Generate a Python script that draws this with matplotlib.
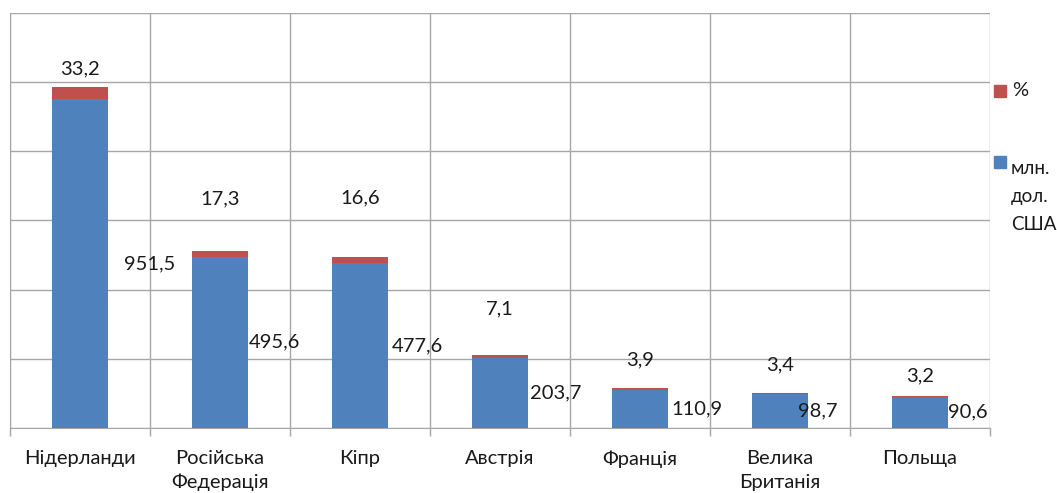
import numpy as np
import matplotlib.pyplot as plt
from matplotlib.patches import Rectangle

plt.rcParams['font.family'] = ['Lato', 'DejaVu Sans']

countries = ["Нідерланди", "Російська\nФедерація", "Кіпр", "Австрія",
             "Франція", "Велика\nБританія", "Польща"]
usd_mln = [951.5, 495.6, 477.6, 203.7, 110.9, 98.7, 90.6]
percent = [33.2, 17.3, 16.6, 7.1, 3.9, 3.4, 3.2]

# label placement (manual, as in the source chart)
usd_label_dx = [0.50, 0.39, 0.41, 0.40, 0.41, 0.27, 0.34]
pct_label_dy = [19, 52, 59, 46, 28, 28, 20]  # px above bar top

BLUE = "#4F81BD"
RED = "#C0504D"
GRID = "#A6A6A6"
TXT = "#1a1a1a"
FS = 14.5

fig = plt.figure(figsize=(10.57, 4.93), dpi=100)
ax = fig.add_axes([10 / 1057, 65 / 493, 980 / 1057, 415 / 493])

x = np.arange(len(countries))
ax.bar(x, usd_mln, width=0.4, color=BLUE, zorder=3)
ax.bar(x, percent, width=0.4, bottom=usd_mln, color=RED, zorder=3)

ax.set_xlim(-0.5, len(countries) - 0.5)
ax.set_ylim(0, 1200)
ax.set_yticks(np.arange(0, 1201, 200))
ax.set_yticklabels([])
ax.tick_params(axis='y', length=0)

ax.set_xticks(x)
ax.set_xticklabels(countries, fontsize=FS, color=TXT, linespacing=1.45)
ax.set_xticks(np.arange(-0.5, len(countries)), minor=True)
ax.tick_params(axis='x', which='major', length=0, pad=16)
ax.tick_params(axis='x', which='minor', length=6, color=GRID, width=1)

ax.grid(axis='y', which='major', color=GRID, linewidth=1, zorder=0)
ax.grid(axis='x', which='minor', color=GRID, linewidth=1, zorder=0)
ax.grid(axis='x', which='major', visible=False)
for side in ['left', 'right', 'top', 'bottom']:
    ax.spines[side].set_color(GRID)
ax.spines['top'].set_visible(False)
ax.spines['right'].set_visible(False)

px = 1200 / 415.0
for i in range(len(countries)):
    ax.text(x[i] + usd_label_dx[i], usd_mln[i] / 2, f"{usd_mln[i]:.1f}".replace(".", ","),
            ha='center', va='center', fontsize=FS, color=TXT, zorder=4)
    top = usd_mln[i] + percent[i]
    ax.text(x[i], top + pct_label_dy[i] * px, f"{percent[i]:.1f}".replace(".", ","),
            ha='center', va='center', fontsize=FS, color=TXT, zorder=4)

# legend
fig.patches.append(Rectangle((994 / 1057, 1 - 97 / 493), 12 / 1057, 12 / 493,
                             transform=fig.transFigure, color=RED))
fig.text(1012 / 1057, 1 - 91 / 493, "%", fontsize=FS, va='center', color=TXT)
fig.patches.append(Rectangle((994 / 1057, 1 - 168 / 493), 12 / 1057, 12 / 493,
                             transform=fig.transFigure, color=BLUE))
fig.text(1011 / 1057, 1 - 160 / 493, "млн.\nдол.\nСША", fontsize=13.5, va='top',
         color=TXT, linespacing=1.8)

fig.savefig("out.png", dpi=100)
